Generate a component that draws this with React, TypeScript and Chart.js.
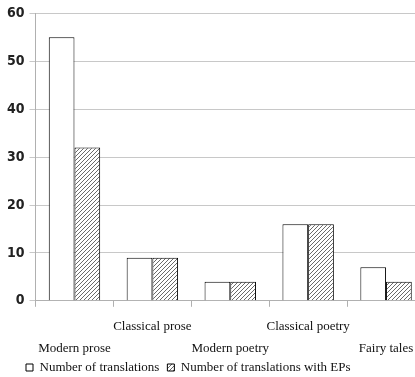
import React, { useEffect, useRef } from "react";
import { Chart, registerables } from "chart.js";

Chart.register(...registerables);

const categories: string[][] = [
  ["", "Modern prose"],
  ["Classical prose", ""],
  ["", "Modern poetry"],
  ["Classical poetry", ""],
  ["", "Fairy tales"],
];
const translations = [55, 9, 4, 16, 7];
const translationsWithEPs = [32, 9, 4, 16, 4];
const seriesNames = ["Number of translations", "Number of translations with EPs"];

function makeHatch(): CanvasPattern | string {
  const c = document.createElement("canvas");
  c.width = 4;
  c.height = 4;
  const ctx = c.getContext("2d");
  if (!ctx) return "#fff";
  ctx.fillStyle = "#fff";
  ctx.fillRect(0, 0, 4, 4);
  ctx.strokeStyle = "#444";
  ctx.lineWidth = 0.8;
  ctx.beginPath();
  ctx.moveTo(-1, 5);
  ctx.lineTo(5, -1);
  ctx.moveTo(-1, 1);
  ctx.lineTo(1, -1);
  ctx.moveTo(3, 5);
  ctx.lineTo(5, 3);
  ctx.stroke();
  return ctx.createPattern(c, "repeat") || "#fff";
}

const legendShift = {
  id: "legendShift",
  afterLayout(chart: any) {
    const lg = chart.legend;
    if (lg) {
      lg.left += 16;
      lg.right += 16;
      lg.top -= 6;
      lg.bottom -= 6;
    }
  },
};

export default function App() {
  const ref = useRef<HTMLCanvasElement>(null);
  useEffect(() => {
    document.body.style.overflow = "hidden";
    if (!ref.current) return;
    const hatch = makeHatch();
    const chart = new Chart(ref.current, {
      type: "bar",
      data: {
        labels: categories,
        datasets: [
          {
            label: seriesNames[0],
            data: translations,
            backgroundColor: "#fff",
            borderColor: "#000",
            borderWidth: 1,
            categoryPercentage: 0.66,
            barPercentage: 1,
          },
          {
            label: seriesNames[1],
            data: translationsWithEPs,
            backgroundColor: hatch as any,
            borderColor: "#000",
            borderWidth: 1,
            categoryPercentage: 0.66,
            barPercentage: 1,
          },
        ],
      },
      options: {
        animation: false,
        responsive: false,
        devicePixelRatio: 1,
        layout: { padding: { top: 11, left: 2, right: 0, bottom: 0 } },
        scales: {
          x: {
            afterFit(scale: any) {
              scale.height -= 10;
            },
            grid: {
              drawOnChartArea: false,
              drawTicks: true,
              tickLength: 6,
              offset: true,
              color: "#b0b0b0",
            },
            border: { color: "#b0b0b0" },
            ticks: {
              color: "#111",
              font: { family: "'Liberation Serif', 'Times New Roman', serif", size: 13, lineHeight: 1.7 },
              maxRotation: 0,
              autoSkip: false,
              padding: 9,
            },
          },
          y: {
            min: 0,
            max: 60,
            grid: { color: "#c8c8c8", tickLength: 6 },
            border: { color: "#b0b0b0" },
            ticks: {
              stepSize: 10,
              color: "#222",
              font: { family: "'DejaVu Sans Condensed', 'Liberation Sans', sans-serif", size: 14, weight: "bold" },
              padding: 5,
            },
          },
        },
        plugins: {
          legend: {
            position: "bottom",
            align: "start",
            labels: {
              boxWidth: 7,
              boxHeight: 7,
              padding: 8,
              color: "#111",
              font: { family: "'Liberation Serif', 'Times New Roman', serif", size: 13 },
            },
          },
          tooltip: { enabled: false },
        },
      },
      plugins: [legendShift],
    });
    return () => chart.destroy();
  }, []);
  return (
    <div style={{ position: "fixed", left: 0, top: 0, width: 425, height: 377, overflow: "hidden" }}>
      <canvas ref={ref} width={425} height={390} style={{ display: "block" }} />
    </div>
  );
}
